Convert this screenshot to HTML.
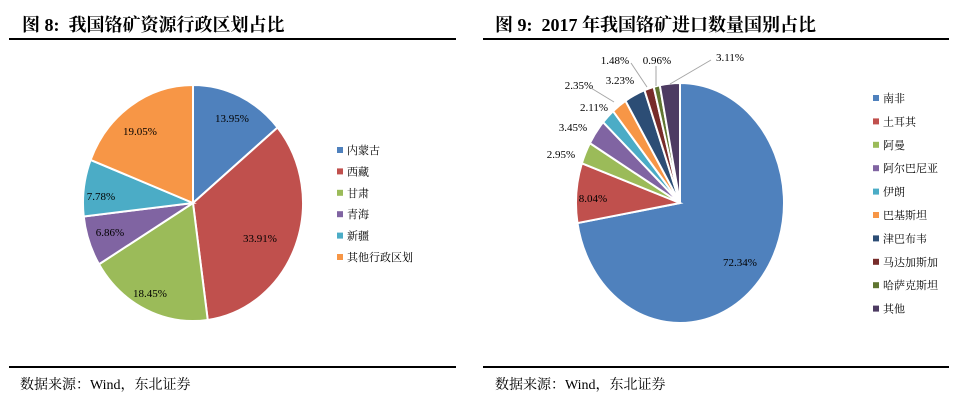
<!DOCTYPE html>
<html><head><meta charset="utf-8"><style>
body{margin:0;background:#fff;width:963px;height:403px;overflow:hidden;position:relative;font-family:"Liberation Serif","Noto Serif CJK SC",serif}
.t{position:absolute;top:11px;font-size:18px;font-weight:bold;color:#000;white-space:nowrap}
.src{position:absolute;top:374px;font-size:14px;white-space:nowrap}
.ln{position:absolute;height:2px;background:#000}
</style></head><body>
<div class="t" style="left:22px">图 8:&nbsp; 我国铬矿资源行政区划占比</div>
<div class="t" style="left:495px">图 9:&nbsp; 2017 年我国铬矿进口数量国别占比</div>
<div class="ln" style="left:9px;top:38px;width:447px"></div>
<div class="ln" style="left:483px;top:38px;width:466px"></div>
<div class="ln" style="left:9px;top:366px;width:447px"></div>
<div class="ln" style="left:483px;top:366px;width:466px"></div>
<div class="src" style="left:20px">数据来源：Wind，东北证券</div>
<div class="src" style="left:495px">数据来源：Wind，东北证券</div>
<svg id="svg" width="963" height="403" style="position:absolute;left:0;top:0" font-family="Liberation Serif, Noto Serif CJK SC, serif"></svg>
<script>
const leftCats=["内蒙古","西藏","甘肃","青海","新疆","其他行政区划"];
const leftVals=[13.95,33.91,18.45,6.86,7.78,19.05];
const leftColors=["#4f81bd","#c0504d","#9bbb59","#8064a2","#4bacc6","#f79646"];
const leftLabelPos=[[232,118],[260,238],[150,293],[110,232],[101,196],[140,131]];
const rightCats=["南非","土耳其","阿曼","阿尔巴尼亚","伊朗","巴基斯坦","津巴布韦","马达加斯加","哈萨克斯坦","其他"];
const rightVals=[72.34,8.04,2.95,3.45,2.11,2.35,3.23,1.48,0.96,3.11];
const rightColors=["#4f81bd","#c0504d","#9bbb59","#8064a2","#4bacc6","#f79646","#2c4d75","#772c2a","#5f7530","#4d3b62"];
const rightLabelPos=[[740,262],[593,198],[561,154],[573,127],[594,107],[579,85],[620,80],[615,60],[657,60],[730,57]];
const NS="http://www.w3.org/2000/svg";
const svg=document.getElementById('svg');
function mk(t,a){const e=document.createElementNS(NS,t);for(const k in a)e.setAttribute(k,a[k]);svg.appendChild(e);return e;}
function pie(cx,cy,rx,ry,vals,colors,cats,labels,lx,ly,ldy,pref){
  const tot=vals.reduce((a,b)=>a+b,0);let acc=0;
  vals.forEach((v,i)=>{
    const a0=acc/tot*2*Math.PI;acc+=v;const a1=acc/tot*2*Math.PI;
    const x0=cx+rx*Math.sin(a0),y0=cy-ry*Math.cos(a0),x1=cx+rx*Math.sin(a1),y1=cy-ry*Math.cos(a1);
    const big=(a1-a0)>Math.PI?1:0;
    const p=mk('path',{d:`M${cx},${cy}L${x0},${y0}A${rx},${ry} 0 ${big} 1 ${x1},${y1}Z`,fill:colors[i],stroke:'#fff','stroke-width':2});
    
    
    const t=mk('text',{x:labels[i][0],y:labels[i][1]+4,'font-size':11,'text-anchor':'middle',fill:'#000'});
    t.textContent=v.toFixed(2)+'%';
    
    
    const m=mk('rect',{x:lx-3,y:ly+i*ldy-3,width:6,height:6,fill:colors[i]});
    
    
    const lt=mk('text',{x:lx+7,y:ly+i*ldy+4,'font-size':11,fill:'#000'});
    lt.textContent=cats[i];
    
    
  });
}
pie(193,203,110,118,leftVals,leftColors,leftCats,leftLabelPos,340,150,21.4,'left');
pie(680,203,104,120,rightVals,rightColors,rightCats,rightLabelPos,876,98,23.4,'right');
[[591,88,614,102],[631,63,647,87],[656,66,656,86],[711,60,670,84]].forEach((l,i)=>{
  const e=mk('polyline',{points:`${l[0]},${l[1]} ${l[2]},${l[3]}`,stroke:'#a6a6a6','stroke-width':1,fill:'none'});
  
  
});
</script>
</body></html>
